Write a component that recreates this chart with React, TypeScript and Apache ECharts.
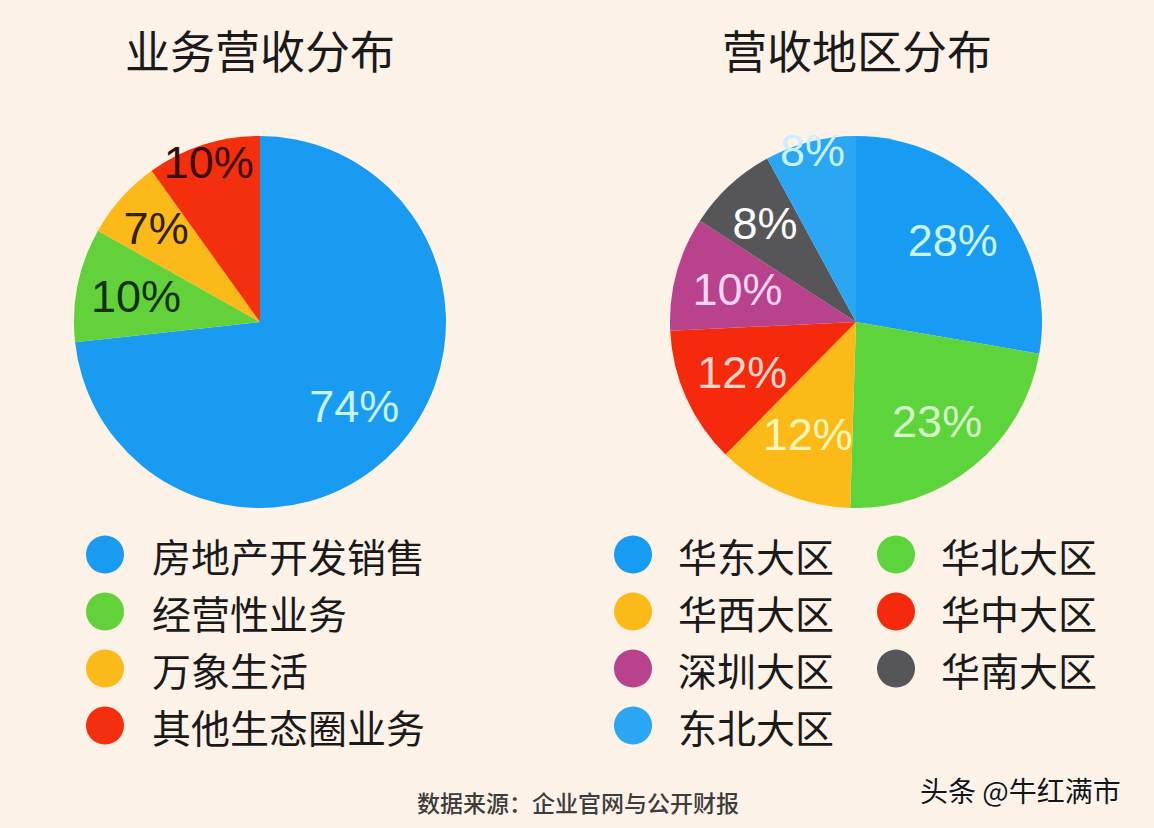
import React, { useEffect, useRef } from "react";
import * as echarts from "echarts";

// ---- data ----
const bizTitle = "业务营收分布";
const bizNames = ["房地产开发销售", "经营性业务", "万象生活", "其他生态圈业务"];
const bizValues = [74, 10, 7, 10];

const regionTitle = "营收地区分布";
const regionNames = ["华东大区", "华北大区", "华西大区", "华中大区", "深圳大区", "华南大区", "东北大区"];
const regionValues = [28, 23, 12, 12, 10, 8, 8];

const sourceText = "数据来源：企业官网与公开财报";
const watermarkText = "头条 @牛红满市";

// ---- styles ----
const bizColors = ["#1a9bf2", "#62d13a", "#fcba1a", "#f42f0e"];
const bizLabelColors = ["#c6f3ff", "#13300c", "#2e2104", "#3a0904"];
const bizLabelRadius = [0.68, 0.68, 0.75, 0.9];

const regionColors = ["#189bf2", "#5dd43c", "#fcba18", "#f52a0c", "#b9428c", "#565557", "#2aa6f2"];
const regionLabelColors = ["#c8f6f2", "#d6f7c8", "#fff7b8", "#ffd6cc", "#ffd6f2", "#ffffff", "#c8f0ff"];
const regionLabelRadius = [0.68, 0.69, 0.66, 0.67, 0.66, 0.72, 0.95];

const BG = "#fcf2e8";
const R = 186;
const LEFT_C: [number, number] = [260, 322];
const RIGHT_C: [number, number] = [856, 322];
const CJK = "'Noto Sans CJK SC', 'Noto Sans', sans-serif";
const NUM = "'Liberation Sans', Arial, sans-serif";

function makeLayout(center: [number, number], factors: number[]) {
  return (params: any) => {
    const rect = params.labelRect;
    const lx = rect.x + rect.width / 2;
    const ly = rect.y + rect.height / 2;
    const vx = lx - center[0];
    const vy = ly - center[1];
    const len = Math.sqrt(vx * vx + vy * vy) || 1;
    const d = factors[params.dataIndex] * R;
    const tx = center[0] + (vx / len) * d;
    const ty = center[1] + (vy / len) * d;
    return { dx: tx - lx, dy: ty - ly };
  };
}

const legendText = (pad: number) => ({
  fontSize: 39,
  lineHeight: 38,
  color: "#1a1a1a",
  fontFamily: CJK,
  padding: [0, 0, 0, pad],
});

const legendBase = {
  orient: "vertical",
  top: 535,
  padding: 0,
  icon: "circle",
  itemWidth: 38,
  itemHeight: 38,
  itemGap: 18,
  selectedMode: false,
};

export default function App() {
  const ref = useRef<HTMLDivElement>(null);

  useEffect(() => {
    document.body.style.margin = "0";
    document.body.style.background = BG;
    const chart = echarts.init(ref.current!, null, { renderer: "svg" });

    const option: any = {
      animation: false,
      backgroundColor: BG,
      legend: [
        { ...legendBase, left: 86, data: bizNames, textStyle: legendText(23) },
        {
          ...legendBase,
          left: 614,
          data: regionNames.filter((_, i) => i % 2 === 0),
          textStyle: legendText(21),
        },
        {
          ...legendBase,
          left: 877,
          data: regionNames.filter((_, i) => i % 2 === 1),
          textStyle: legendText(21),
        },
      ],
      series: [
        {
          type: "pie",
          center: LEFT_C,
          radius: R,
          startAngle: 90,
          clockwise: true,
          silent: true,
          data: bizNames.map((n, i) => ({
            name: n,
            value: bizValues[i],
            itemStyle: { color: bizColors[i] },
            label: { color: bizLabelColors[i] },
          })),
          label: {
            show: true,
            position: "inside",
            formatter: "{c}%",
            fontSize: 45,
            fontFamily: NUM,
          },
          labelLine: { show: false },
          labelLayout: makeLayout(LEFT_C, bizLabelRadius),
        },
        {
          type: "pie",
          center: RIGHT_C,
          radius: R,
          startAngle: 90,
          clockwise: true,
          silent: true,
          data: regionNames.map((n, i) => ({
            name: n,
            value: regionValues[i],
            itemStyle: { color: regionColors[i] },
            label: { color: regionLabelColors[i] },
          })),
          label: {
            show: true,
            position: "inside",
            formatter: "{c}%",
            fontSize: 45,
            fontFamily: NUM,
          },
          labelLine: { show: false },
          labelLayout: makeLayout(RIGHT_C, regionLabelRadius),
        },
      ],
      graphic: [
        {
          type: "text",
          x: 260,
          y: 49,
          style: {
            text: bizTitle,
            align: "center",
            verticalAlign: "middle",
            fontSize: 45,
            fontFamily: CJK,
            fill: "#1a1a1a",
          },
        },
        {
          type: "text",
          x: 857,
          y: 49,
          style: {
            text: regionTitle,
            align: "center",
            verticalAlign: "middle",
            fontSize: 45,
            fontFamily: CJK,
            fill: "#1a1a1a",
          },
        },
        {
          type: "text",
          x: 578,
          y: 802,
          style: {
            text: sourceText,
            align: "center",
            verticalAlign: "middle",
            fontSize: 23,
            fontWeight: 500,
            fontFamily: CJK,
            fill: "#3d3d3d",
          },
        },
        {
          type: "text",
          x: 920,
          y: 790,
          style: {
            text: watermarkText,
            align: "left",
            verticalAlign: "middle",
            fontSize: 28,
            fontFamily: CJK,
            fill: "#151515",
            stroke: "#ffffff",
            lineWidth: 1,
          },
        },
      ],
    };

    chart.setOption(option);
    return () => chart.dispose();
  }, []);

  return <div ref={ref} style={{ width: 1154, height: 828 }} />;
}
